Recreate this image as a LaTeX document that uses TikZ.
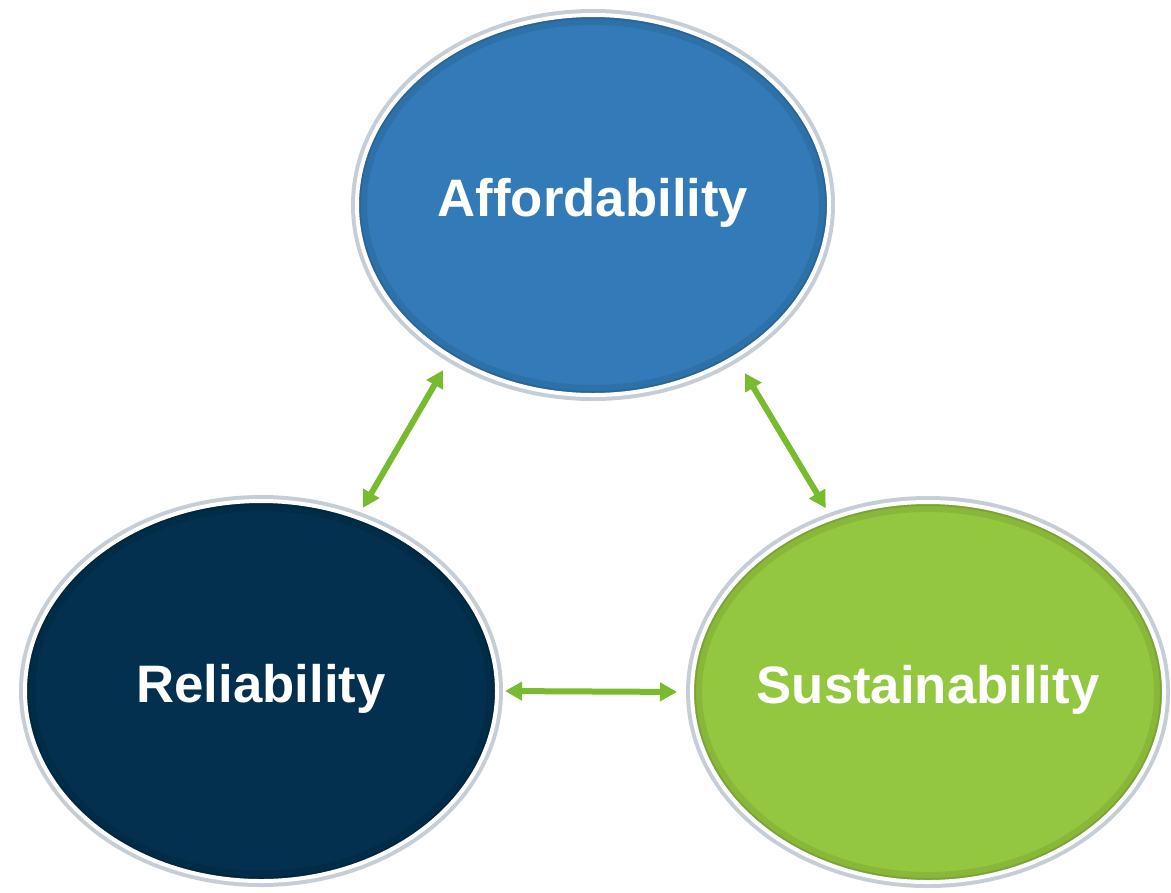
\documentclass[tikz,border=0pt]{standalone}
\usepackage{fontspec}
\setmainfont{Liberation Sans}
\usetikzlibrary{shapes.geometric,arrows.meta}

\definecolor{affblue}{RGB}{50,123,184}
\definecolor{relnavy}{RGB}{2,48,78}
\definecolor{susgreen}{RGB}{148,199,64}
\definecolor{arrowgreen}{RGB}{120,187,46}
\definecolor{glow}{RGB}{197,206,214}

\begin{document}
\begin{tikzpicture}[
  bubble/.style={ellipse, minimum width=9.44cm, minimum height=7.6cm,
    inner xsep=-0.5cm, inner ysep=0pt,
    draw=white, line width=0.08cm, text=white, text depth=9pt,
    font=\fontsize{30}{36}\selectfont\bfseries,
    preaction={draw=glow, line width=0.24cm},
    path picture={
      \draw[black, opacity=.08, line width=0.4cm]
        (path picture bounding box.center) ellipse [x radius=4.72cm, y radius=3.8cm];
      \draw[black, opacity=.1, line width=0.16cm]
        (path picture bounding box.center) ellipse [x radius=4.72cm, y radius=3.8cm];}},
  link/.style={draw=arrowgreen, line width=0.12cm, {Triangle[length=0.34cm, width=0.36cm]}-{Triangle[length=0.34cm, width=0.36cm]}}
]
\useasboundingbox (0,0) rectangle (23.42,-17.84);

\node[bubble, fill=affblue] (aff) at (11.86,-4.10) {Affordability};
\node[bubble, fill=relnavy] (rel) at (5.22,-13.82) {Reliability};
\node[bubble, fill=susgreen] (sus) at (18.56,-13.84) {Sustainability};

% two-way links
\draw[link, shorten <=0.27cm, shorten >=0.18cm] (aff.227) -- (rel.61);
\draw[link, shorten <=0.34cm, shorten >=0.2cm] (aff.313) -- (sus.119);
\draw[link, shorten <=0.12cm, shorten >=0.26cm] (rel.east) -- (sus.west);
\end{tikzpicture}
\end{document}
